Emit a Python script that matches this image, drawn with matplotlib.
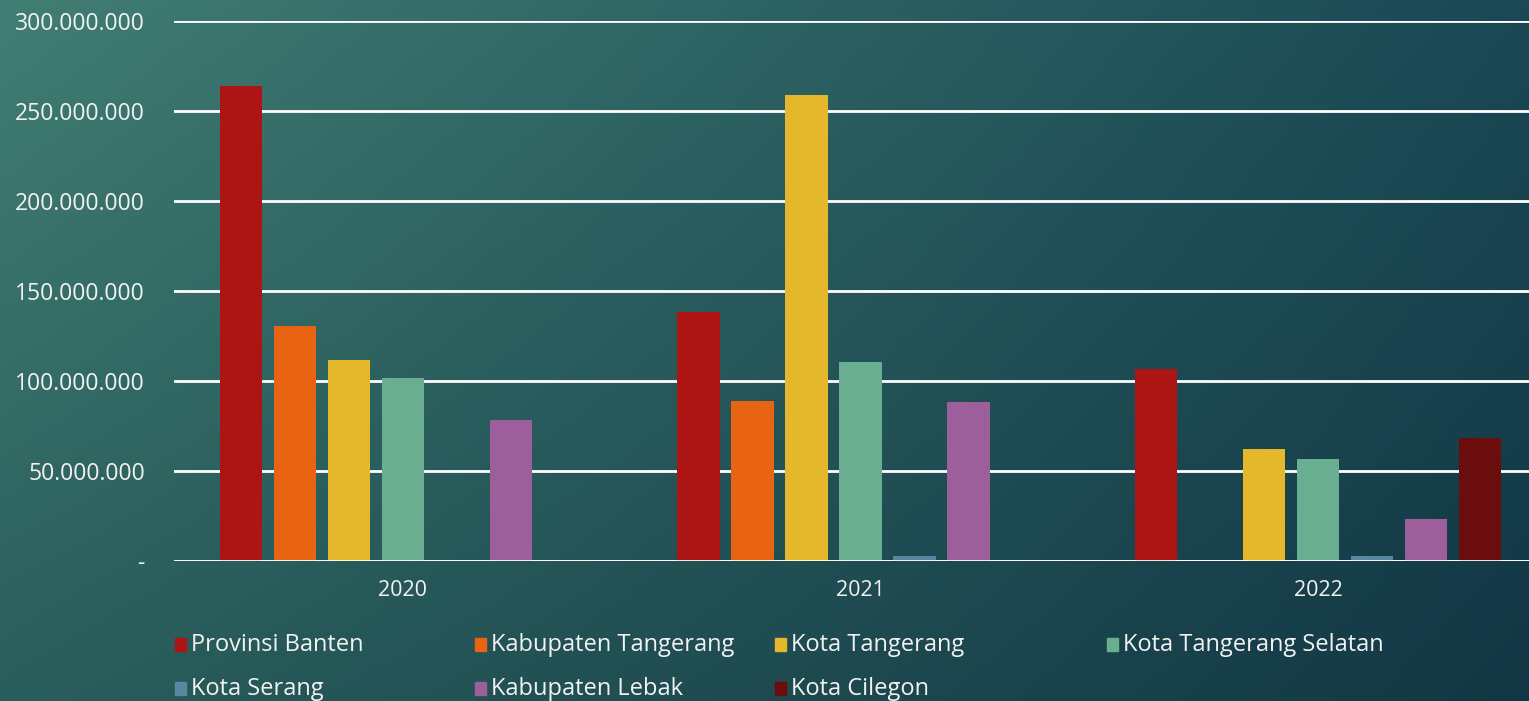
import numpy as np
import matplotlib
matplotlib.use("Agg")
import matplotlib.pyplot as plt
from matplotlib.ticker import FuncFormatter

## Data
years = ["2020", "2021", "2022"]
series = ["Provinsi Banten", "Kabupaten Tangerang", "Kota Tangerang",
          "Kota Tangerang Selatan", "Kota Serang", "Kabupaten Lebak", "Kota Cilegon"]
provinsi_banten = [264.0e6, 138.5e6, 106.7e6]
kab_tangerang = [130.8e6, 88.8e6, 0]
kota_tangerang = [111.6e6, 258.9e6, 62.2e6]
kota_tangsel = [101.4e6, 110.4e6, 56.6e6]
kota_serang = [0, 3.0e6, 3.0e6]
kab_lebak = [78.3e6, 88.6e6, 23.2e6]
kota_cilegon = [0, 0, 68.3e6]
values = [provinsi_banten, kab_tangerang, kota_tangerang, kota_tangsel,
          kota_serang, kab_lebak, kota_cilegon]
colors = ["#ad1515", "#e86412", "#e5b72a", "#6aae91", "#5a87a0", "#9d5f9b", "#6b0d0d"]

W, H = 1529, 701
fig = plt.figure(figsize=(W / 100, H / 100), dpi=100)

# background gradient
bg = fig.add_axes([0, 0, 1, 1])
xx, yy = np.meshgrid(np.linspace(0, 1, 300), np.linspace(0, 1, 150))
tl = np.array([65, 126, 115]) / 255
tr = np.array([26, 72, 84]) / 255
bl = np.array([42, 94, 92]) / 255
br = np.array([18, 55, 68]) / 255
img = (tl * ((1 - xx) * (1 - yy))[..., None] + tr * (xx * (1 - yy))[..., None]
       + bl * ((1 - xx) * yy)[..., None] + br * (xx * yy)[..., None])
bg.imshow(img, aspect="auto", extent=[0, 1, 0, 1], origin="upper")
bg.axis("off")

txt = "#f2f2f2"
font = "Open Sans"

ax = fig.add_axes([174 / W, 140 / H, (1547 - 174) / W, 540 / H])
ax.patch.set_alpha(0)

x = np.arange(len(years))
step = 0.118
width = 0.092
for i, (name, vals, c) in enumerate(zip(series, values, colors)):
    ax.bar(x + (i - 3) * step, vals, width, color=c, zorder=3, label=name)

ax.set_xlim(-0.5, 2.5)
ax.set_ylim(0, 300e6)
ax.set_yticks(np.arange(0, 300e6 + 1, 50e6))
ax.yaxis.set_major_formatter(FuncFormatter(
    lambda v, p: "-" if v == 0 else f"{int(v):,}".replace(",", ".")))
ax.grid(axis="y", color="white", linewidth=2, zorder=1)
for s in ["top", "right", "left", "bottom"]:
    ax.spines[s].set_visible(False)
ax.axhline(0, color="white", linewidth=2, zorder=4)
ax.tick_params(length=0, labelcolor=txt)
ax.tick_params(axis="y", pad=21, labelsize=16.5)
ax.tick_params(axis="x", pad=14, labelsize=15.5)
ax.set_xticks(x)
ax.set_xticklabels(years)
for t in ax.get_xticklabels() + ax.get_yticklabels():
    t.set_fontfamily(font)

# legend
leg_x = [175, 475, 775, 1107, 175, 475, 775]
leg_y = [645, 645, 645, 645, 689, 689, 689]
for name, c, lx, ly in zip(series, colors, leg_x, leg_y):
    fig.patches.append(plt.Rectangle((lx / W, (H - ly - 6) / H), 11 / W, 13 / H,
                                     color=c, transform=fig.transFigure))
    fig.text((lx + 16) / W, (H - ly) / H, name, color=txt, fontsize=17,
             family=font, va="center", ha="left")

plt.savefig("out.png", dpi=100)
